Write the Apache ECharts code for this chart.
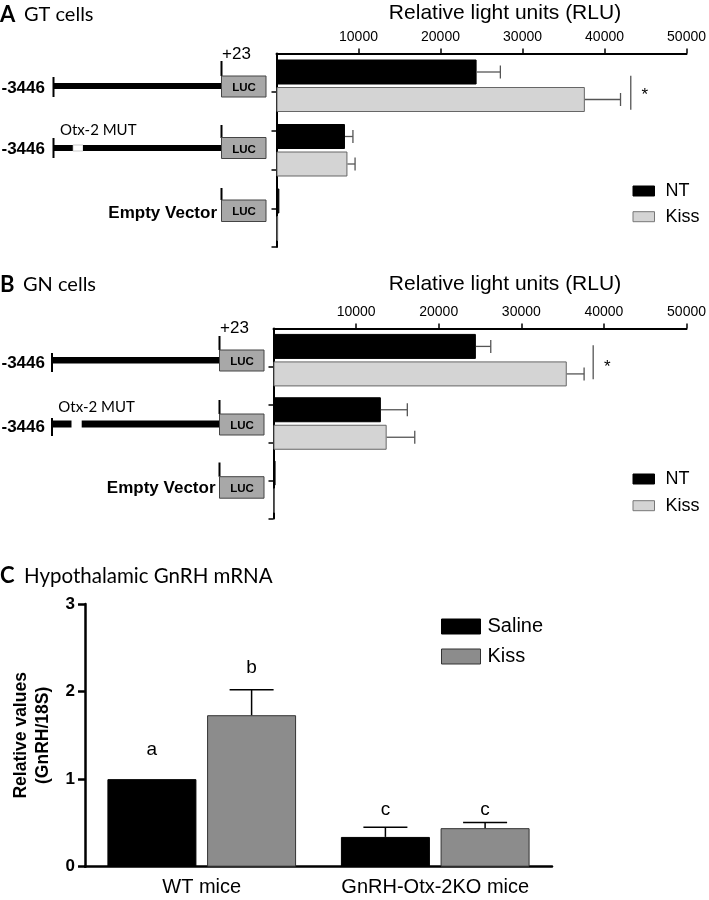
<!DOCTYPE html>
<html><head><meta charset="utf-8">
<script src="https://cdn.jsdelivr.net/npm/echarts@6/dist/echarts.min.js"></script>
<style>html,body{margin:0;padding:0;background:#fff}#c{width:709px;height:900px}</style>
</head><body><div id="c"></div>
<script>
// ---------- DATA ----------
// Panels A & B: luciferase constructs (top to bottom)
const constructs = ['-3446', '-3446 Otx-2 MUT', 'Empty Vector'];
const rluTickInterval = 10000;
const rluMax = 50000;
// A: GT cells
const gtNT = [24400, 8350, 350];
const gtNTErr = [2900, 970, 0];
const gtKiss = [37600, 8650, 200];
const gtKissErr = [4350, 930, 0];
const gtSigX = [43200, 44900];      // bracket, star (RLU)
// B: GN cells
const gnNT = [24500, 13000, 250];
const gnNTErr = [1800, 3200, 0];
const gnKiss = [35500, 13700, 150];
const gnKissErr = [2100, 3400, 0];
const gnSigX = [38700, 40400];
// C: Hypothalamic GnRH mRNA
const groupsC = ['WT mice', 'GnRH-Otx-2KO mice'];
const salineC = [1.0, 0.34];
const salineCErr = [0, 0.11];
const kissC = [1.73, 0.44];
const kissCErr = [0.29, 0.065];
const salineLetters = ['a', 'c'];
const kissLetters = ['b', 'c'];
const salineLetterAt = [1.33, 0.65];
const kissLetterAt = [2.27, 0.65];
const cMax = 3, cInterval = 1;

// ---------- STYLE ----------
const ARIAL = '"Liberation Sans", Arial, sans-serif';
const CAL = 'Lato, "Open Sans", sans-serif';
const KISS_LIGHT = '#d4d4d4';
const KISS_DARK = '#8c8c8c';
const ERR_GRAY = '#555';

function hErr(xi, yi, vals, errs, off) {
  return {
    type: 'custom', xAxisIndex: xi, yAxisIndex: yi, silent: true, z: 3,
    data: vals.map((v, i) => [v, i, errs[i]]),
    encode: {x: 0, y: 1},
    renderItem: (p, api) => {
      const v = api.value(0), c = api.value(1), e = api.value(2);
      if (!e) return null;
      const a = api.coord([v, c]), b = api.coord([v + e, c]);
      const y = a[1] + off;
      return {type: 'group', children: [
        {type: 'line', shape: {x1: a[0], y1: y, x2: b[0], y2: y}, style: {stroke: ERR_GRAY, lineWidth: 1.3}},
        {type: 'line', shape: {x1: b[0], y1: y - 6.5, x2: b[0], y2: y + 6.5}, style: {stroke: ERR_GRAY, lineWidth: 1.3}}
      ]};
    }
  };
}
function sig(xi, yi, sx, top, bot, starDy) {
  return {
    type: 'custom', xAxisIndex: xi, yAxisIndex: yi, silent: true, z: 3,
    data: [[sx[0], 0, sx[1]]],
    encode: {x: 0, y: 1},
    renderItem: (p, api) => {
      const a = api.coord([api.value(0), api.value(1)]);
      const s = api.coord([api.value(2), api.value(1)]);
      return {type: 'group', children: [
        {type: 'line', shape: {x1: a[0], y1: a[1] + top, x2: a[0], y2: a[1] + bot}, style: {stroke: ERR_GRAY, lineWidth: 1.3}},
        {type: 'text', style: {text: '*', x: s[0], y: a[1] + starDy, font: '17px ' + ARIAL, fill: '#000', align: 'center', verticalAlign: 'middle'}}
      ]};
    }
  };
}
function vErr(xi, yi, vals, errs, off, letters, letterAt) {
  return {
    type: 'custom', xAxisIndex: xi, yAxisIndex: yi, silent: true, z: 3,
    data: vals.map((v, i) => [i, v, errs[i], letterAt[i]]),
    encode: {x: 0, y: 1},
    renderItem: (p, api) => {
      const c = api.value(0), v = api.value(1), e = api.value(2);
      const a = api.coord([c, v]), b = api.coord([c, v + e]), l = api.coord([c, api.value(3)]);
      const x = a[0] + off;
      const ch = [{type: 'text', style: {text: letters[p.dataIndex], x: x, y: l[1], font: '19px ' + ARIAL, fill: '#000', align: 'center', verticalAlign: 'middle'}}];
      if (e) {
        ch.push({type: 'line', shape: {x1: x, y1: a[1], x2: x, y2: b[1]}, style: {stroke: '#000', lineWidth: 1.5}});
        ch.push({type: 'line', shape: {x1: x - 22, y1: b[1], x2: x + 22, y2: b[1]}, style: {stroke: '#000', lineWidth: 1.5}});
      }
      return {type: 'group', children: ch};
    }
  };
}

function rluX(gi) {
  return {
    type: 'value', gridIndex: gi, position: 'top', min: 0, max: rluMax, interval: rluTickInterval,
    axisLine: {show: true, lineStyle: {color: '#000', width: 2}},
    axisTick: {show: true, length: 5, lineStyle: {color: '#000', width: 1.5}},
    axisLabel: {showMinLabel: false, fontSize: 14, color: '#000', fontFamily: ARIAL, margin: 9,
                formatter: v => String(v)},
    splitLine: {show: false}
  };
}
function catY(gi) {
  return {
    type: 'category', gridIndex: gi, inverse: true, data: constructs, position: 'left',
    axisLine: {show: true, lineStyle: {color: '#000', width: 2}},
    axisTick: {show: false}, axisLabel: {show: false}
  };
}
function tickY(gi) {
  return {
    type: 'value', gridIndex: gi, inverse: true, min: 0, max: 5, interval: 1, position: 'left',
    axisLine: {show: false},
    axisTick: {show: true, length: 5, customValues: [1, 2, 3, 4, 5], lineStyle: {color: '#000', width: 1.5}},
    axisLabel: {show: false}, splitLine: {show: false}
  };
}
function hbar(name, xi, yi, data, color, border) {
  return {
    type: 'bar', name: name, xAxisIndex: xi, yAxisIndex: yi, data: data,
    barWidth: 25, barGap: '10%', z: 2,
    itemStyle: {color: color, borderColor: border, borderWidth: 1}
  };
}
function legendRL(top, gap) {
  return {
    left: 632.5, top: top, orient: 'vertical', padding: 0, itemWidth: 21.5, itemHeight: 10, itemGap: gap,
    selectedMode: false, icon: 'rect',
    data: [
      {name: 'NT', icon: 'rect', itemStyle: {color: '#000', borderColor: '#000', borderWidth: 1}},
      {name: 'Kiss', icon: 'rect', itemStyle: {color: KISS_LIGHT, borderColor: '#777', borderWidth: 1}}
    ],
    textStyle: {fontSize: 18, lineHeight: 18, color: '#000', fontFamily: ARIAL, padding: [0, 0, 0, 6]}
  };
}

// ---------- diagram graphics (left construct drawings) ----------
const G = [];
function T(text, x, y, font, align, fill) {
  G.push({type: 'text', silent: true, style: {text: text, x: x, y: y, font: font, fill: fill || '#000', align: align || 'left', verticalAlign: 'middle'}});
}
function R(x, y, w, h, fill, stroke, lw) {
  G.push({type: 'rect', silent: true, shape: {x: x, y: y, width: w, height: h}, style: {fill: fill, stroke: stroke || null, lineWidth: lw || 0}});
}
function L(x1, y1, x2, y2, w) {
  G.push({type: 'line', silent: true, shape: {x1: x1, y1: y1, x2: x2, y2: y2}, style: {stroke: '#000', lineWidth: w || 2}});
}
function luc(x, y, h) {
  R(x, y, 44.5, h, '#a8a8a8', '#444', 1);
  T('LUC', x + 22.5, y + h / 2 + 1.5, 'bold 11.5px ' + ARIAL, 'center');
}
// headers
T('A', 0, 15, 'bold 22px ' + CAL); T('GT cells', 24, 15, '20px ' + CAL);
T('B', 0, 285, 'bold 22px ' + CAL); T('GN cells', 23, 285, '20px ' + CAL);
T('C', 0, 576, 'bold 22px ' + CAL); T('Hypothalamic GnRH mRNA', 24, 576, '20.5px ' + CAL);
T('Relative light units (RLU)', 505, 13, '21px ' + ARIAL, 'center');
T('Relative light units (RLU)', 505, 284, '21px ' + ARIAL, 'center');
// Panel A constructs
T('-3446', 1.5, 88, 'bold 17px ' + ARIAL);
L(53.5, 77, 53.5, 97, 2); R(53, 83, 168.5, 6, '#000');
L(221.5, 61, 221.5, 76, 2); T('+23', 222, 54, '17px ' + ARIAL); luc(221.5, 76, 21);
T('-3446', 1.5, 149.5, 'bold 17px ' + ARIAL);
L(53.5, 138, 53.5, 158, 2); R(53, 145, 20, 6, '#000'); R(73, 145, 10, 6, '#fff', '#aaa', 0.6); R(83, 145, 138.5, 6, '#000');
T('Otx-2 MUT', 60, 130, '15px ' + CAL);
L(221.5, 125, 221.5, 138, 2); luc(221.5, 137.5, 21);
T('Empty Vector', 217, 213, 'bold 17px ' + ARIAL, 'right');
L(221.5, 188, 221.5, 200, 2); luc(221.5, 200, 21.5);
// Panel B constructs
T('-3446', 1.5, 363.5, 'bold 17px ' + ARIAL);
L(52, 353, 52, 372, 2); R(51.5, 357, 168, 6.5, '#000');
L(219.5, 336, 219.5, 350, 2); T('+23', 220, 328.5, '17px ' + ARIAL); luc(219.5, 350, 21);
T('-3446', 1.5, 427, 'bold 17px ' + ARIAL);
L(52, 418, 52, 436, 2); R(51.5, 420.5, 20, 7, '#000'); R(81.7, 420.5, 138, 7, '#000');
T('Otx-2 MUT', 58.3, 407, '15px ' + CAL);
L(219.5, 400, 219.5, 414, 2); luc(219.5, 414, 21);
T('Empty Vector', 215.5, 488.5, 'bold 17px ' + ARIAL, 'right');
L(219.5, 462.5, 219.5, 476.7, 2); luc(219.5, 476.7, 21.5);

const option = {
  backgroundColor: '#fff',
  animation: false,
  grid: [
    {left: 276.5, top: 53.5, width: 412, height: 193.5},
    {left: 273.5, top: 328.5, width: 413.5, height: 190},
    {left: 85, top: 604, width: 467, height: 262.7}
  ],
  xAxis: [
    rluX(0), rluX(1),
    {type: 'category', gridIndex: 2, data: groupsC,
     axisLine: {show: true, lineStyle: {color: '#000', width: 2.5}}, axisTick: {show: false},
     axisLabel: {interval: 0, hideOverlap: false, fontSize: 20, color: '#000', fontFamily: ARIAL, margin: 11}}
  ],
  yAxis: [
    catY(0), tickY(0), catY(1), tickY(1),
    {type: 'value', gridIndex: 2, min: 0, max: cMax, interval: cInterval,
     axisLine: {show: true, lineStyle: {color: '#000', width: 2.5}},
     axisTick: {show: true, length: 7, lineStyle: {color: '#000', width: 2.5}},
     axisLabel: {fontSize: 17, fontWeight: 'bold', color: '#000', fontFamily: ARIAL, margin: 10},
     splitLine: {show: false},
     name: 'Relative values\n(GnRH/18S)', nameLocation: 'middle', nameGap: 25, nameRotate: 90,
     nameTextStyle: {fontSize: 17.5, fontWeight: 'bold', color: '#000', fontFamily: ARIAL, lineHeight: 22.5}}
  ],
  legend: [
    legendRL(182, 7.7),
    legendRL(470, 8.7),
    {left: 441, top: 616.5, orient: 'vertical', padding: 0, itemWidth: 39, itemHeight: 15, itemGap: 10,
     selectedMode: false, icon: 'rect',
     data: [
       {name: 'Saline', icon: 'rect', itemStyle: {color: '#000', borderColor: '#000', borderWidth: 1}},
       {name: 'Kiss', icon: 'rect', itemStyle: {color: KISS_DARK, borderColor: '#333', borderWidth: 1}}
     ],
     textStyle: {fontSize: 20, lineHeight: 20, color: '#000', fontFamily: ARIAL, padding: [0, 0, 0, 2]}}
  ],
  graphic: G,
  series: [
    hbar('NT', 0, 0, gtNT, '#000', '#000'),
    hbar('Kiss', 0, 0, gtKiss, KISS_LIGHT, '#666'),
    hErr(0, 0, gtNT, gtNTErr, -13.75),
    hErr(0, 0, gtKiss, gtKissErr, 13.75),
    sig(0, 0, gtSigX, -10, 24, 10),
    hbar('NT', 1, 2, gnNT, '#000', '#000'),
    hbar('Kiss', 1, 2, gnKiss, KISS_LIGHT, '#666'),
    hErr(1, 2, gnNT, gnNTErr, -13.75),
    hErr(1, 2, gnKiss, gnKissErr, 13.75),
    sig(1, 2, gnSigX, -15, 19, 7),
    {type: 'bar', name: 'Saline', xAxisIndex: 2, yAxisIndex: 4, data: salineC, barWidth: 89, barGap: '12%',
     itemStyle: {color: '#000', borderColor: '#000', borderWidth: 1}},
    {type: 'bar', name: 'Kiss', xAxisIndex: 2, yAxisIndex: 4, data: kissC, barWidth: 89, barGap: '12%',
     itemStyle: {color: KISS_DARK, borderColor: '#333', borderWidth: 1}},
    vErr(2, 4, salineC, salineCErr, -49.85, salineLetters, salineLetterAt),
    vErr(2, 4, kissC, kissCErr, 49.85, kissLetters, kissLetterAt)
  ]
};
const chart = echarts.init(document.getElementById('c'), null, {renderer: 'canvas'});
chart.setOption(option);
</script>
</body></html>
